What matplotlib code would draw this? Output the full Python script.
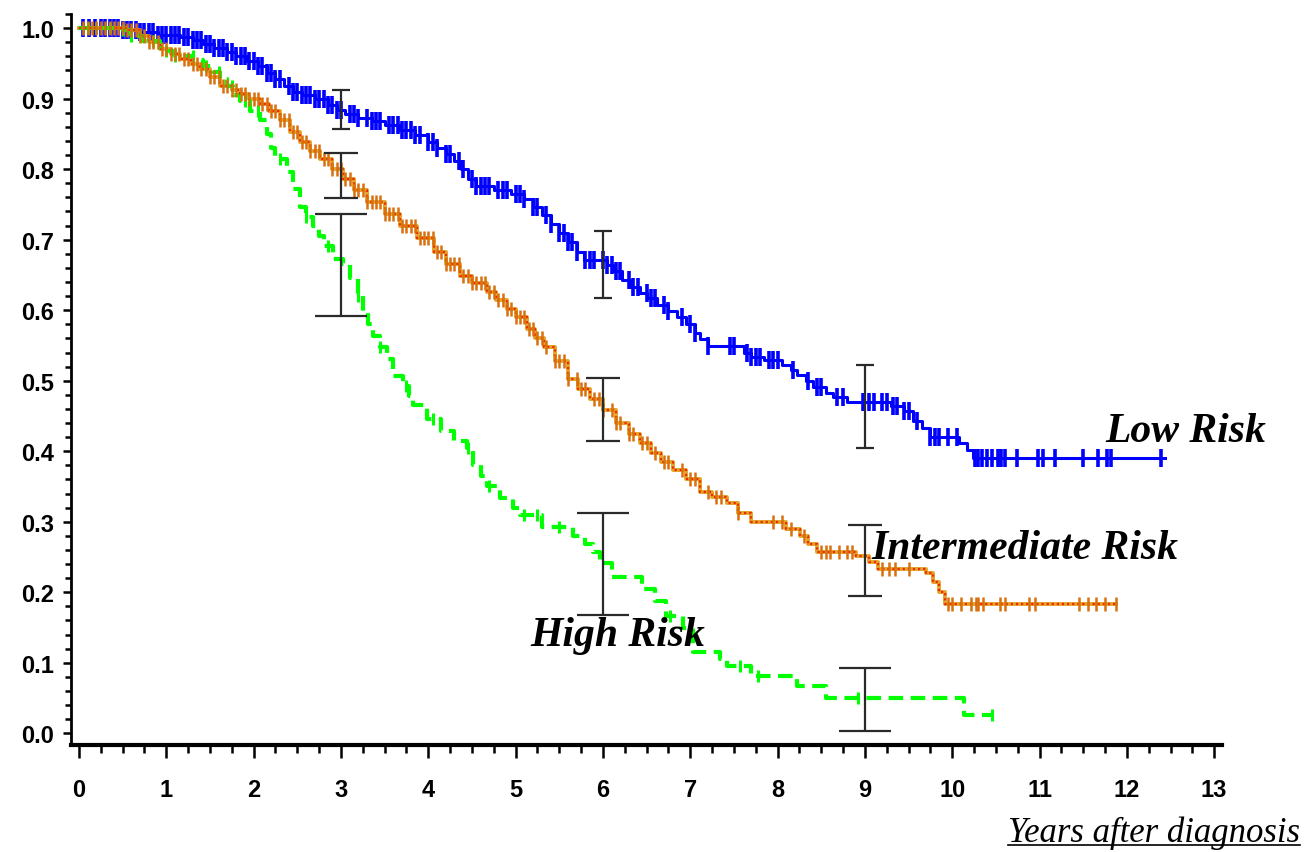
import numpy as np
import matplotlib
matplotlib.use('Agg')
import matplotlib.pyplot as plt
from matplotlib.lines import Line2D
from matplotlib.ticker import MultipleLocator, FormatStrFormatter

plt.rcParams['font.family'] = ['Liberation Sans', 'DejaVu Sans']
plt.rcParams['font.weight'] = 'bold'

# Kaplan-Meier curves (years, survival)
low_t = [0.0, 0.5, 0.7, 0.9, 1.16, 1.3, 1.42, 1.55, 1.69, 1.8, 1.92, 2.05, 2.15, 2.25, 2.35,
         2.45, 2.55, 2.7, 2.85, 2.95, 3.05, 3.2, 3.35, 3.5, 3.68, 3.85, 4.0, 4.1, 4.2, 4.3,
         4.38, 4.45, 4.55, 4.75, 4.95, 5.1, 5.2, 5.3, 5.4, 5.5, 5.6, 5.7, 5.78, 6.05, 6.12,
         6.22, 6.31, 6.42, 6.51, 6.62, 6.74, 6.85, 6.95, 7.05, 7.11, 7.2, 7.62, 7.7, 7.85,
         8.05, 8.15, 8.22, 8.32, 8.41, 8.55, 8.64, 8.8, 9.3, 9.45, 9.55, 9.65, 9.75, 10.08,
         10.17, 10.24, 12.44]
low_s = [1.0, 0.998, 0.994, 0.99, 0.987, 0.983, 0.978, 0.972, 0.966, 0.96, 0.954, 0.946, 0.937,
         0.928, 0.918, 0.91, 0.905, 0.899, 0.891, 0.884, 0.878, 0.873, 0.868, 0.863, 0.856,
         0.848, 0.838, 0.83, 0.822, 0.812, 0.8, 0.786, 0.776, 0.771, 0.765, 0.757, 0.746,
         0.735, 0.722, 0.71, 0.697, 0.683, 0.671, 0.664, 0.655, 0.643, 0.633, 0.624, 0.617,
         0.608, 0.599, 0.59, 0.58, 0.568, 0.559, 0.549, 0.54, 0.533, 0.529, 0.523, 0.515,
         0.508, 0.499, 0.491, 0.483, 0.477, 0.47, 0.464, 0.457, 0.443, 0.433, 0.42, 0.412,
         0.402, 0.39, 0.39]
low_cens = [0.05, 0.12, 0.18, 0.25, 0.3, 0.35, 0.4, 0.45, 0.5, 0.55, 0.6, 0.65, 0.7, 0.75, 0.8,
            0.85, 0.9, 0.95, 1.0, 1.05, 1.1, 1.15, 1.2, 1.25, 1.3, 1.35, 1.4, 1.45, 1.5, 1.55,
            1.6, 1.65, 1.7, 1.75, 1.8, 1.85, 1.9, 1.95, 2.0, 2.05, 2.1, 2.15, 2.2, 2.25, 2.3,
            2.4, 2.45, 2.5, 2.55, 2.6, 2.65, 2.7, 2.75, 2.8, 2.85, 2.9, 2.95, 3.0, 3.1, 3.15,
            3.2, 3.3, 3.35, 3.4, 3.45, 3.55, 3.6, 3.65, 3.7, 3.75, 3.8, 3.85, 3.9, 4.0, 4.05,
            4.1, 4.2, 4.25, 4.35, 4.4, 4.5, 4.55, 4.6, 4.65, 4.7, 4.8, 4.85, 4.9, 5.0, 5.05,
            5.1, 5.2, 5.25, 5.35, 5.4, 5.5, 5.55, 5.6, 5.65, 5.7, 5.8, 5.85, 5.9, 6.0, 6.05,
            6.1, 6.15, 6.2, 6.3, 6.35, 6.4, 6.5, 6.55, 6.6, 6.7, 6.75, 6.9, 7.0, 7.05, 7.2,
            7.46, 7.5, 7.65, 7.7, 7.75, 7.8, 7.9, 7.95, 8.0, 8.18, 8.35, 8.45, 8.5, 8.68, 8.75,
            8.98, 9.05, 9.1, 9.2, 9.25, 9.32, 9.37, 9.45, 9.5, 9.6, 9.75, 9.8, 9.85, 9.95,
            10.05, 10.26, 10.3, 10.34, 10.4, 10.46, 10.52, 10.56, 10.6, 10.74, 10.98, 11.04,
            11.18, 11.5, 11.67, 11.77, 11.82, 12.39]

mid_t = [0.0, 0.55, 0.7, 0.8, 0.93, 1.05, 1.16, 1.28, 1.39, 1.5, 1.62, 1.75, 1.84, 1.95, 2.07,
         2.18, 2.3, 2.42, 2.53, 2.65, 2.76, 2.9, 3.02, 3.15, 3.3, 3.5, 3.68, 3.87, 4.06, 4.2,
         4.36, 4.5, 4.67, 4.78, 4.9, 5.0, 5.13, 5.22, 5.32, 5.45, 5.6, 5.72, 5.85, 6.0, 6.15,
         6.3, 6.42, 6.55, 6.66, 6.8, 6.95, 7.11, 7.25, 7.42, 7.55, 7.7, 8.1, 8.26, 8.35, 8.45,
         8.9, 9.05, 9.15, 9.7, 9.78, 9.85, 9.92, 11.87]
mid_s = [1.0, 0.998, 0.989, 0.98, 0.97, 0.963, 0.956, 0.949, 0.942, 0.93, 0.918, 0.912, 0.906,
         0.9, 0.893, 0.882, 0.87, 0.853, 0.838, 0.826, 0.814, 0.8, 0.786, 0.77, 0.753, 0.737,
         0.72, 0.702, 0.683, 0.666, 0.649, 0.639, 0.626, 0.614, 0.602, 0.59, 0.574, 0.561,
         0.548, 0.528, 0.503, 0.488, 0.474, 0.458, 0.44, 0.425, 0.411, 0.398, 0.385, 0.373,
         0.36, 0.342, 0.335, 0.327, 0.313, 0.3, 0.29, 0.28, 0.268, 0.257, 0.252, 0.243, 0.233,
         0.228, 0.215, 0.2, 0.184, 0.184]
mid_cens = [0.05, 0.1, 0.15, 0.2, 0.25, 0.3, 0.35, 0.4, 0.45, 0.5, 0.55, 0.6, 0.65, 0.7, 0.75,
            0.8, 0.85, 0.9, 0.95, 1.0, 1.05, 1.1, 1.15, 1.2, 1.25, 1.3, 1.35, 1.4, 1.45, 1.5,
            1.55, 1.6, 1.65, 1.7, 1.75, 1.8, 1.85, 1.9, 1.95, 2.0, 2.05, 2.1, 2.15, 2.2, 2.25,
            2.3, 2.35, 2.4, 2.45, 2.5, 2.55, 2.6, 2.65, 2.7, 2.75, 2.8, 2.85, 2.9, 2.95, 3.0,
            3.05, 3.1, 3.15, 3.2, 3.25, 3.3, 3.35, 3.4, 3.45, 3.5, 3.55, 3.6, 3.65, 3.7, 3.75,
            3.8, 3.85, 3.9, 3.95, 4.0, 4.05, 4.1, 4.15, 4.2, 4.25, 4.3, 4.35, 4.4, 4.45, 4.5,
            4.55, 4.6, 4.65, 4.7, 4.75, 4.8, 4.85, 4.9, 4.95, 5.0, 5.05, 5.1, 5.15, 5.2, 5.25,
            5.3, 5.35, 5.45, 5.5, 5.55, 5.6, 5.7, 5.75, 5.8, 5.9, 5.95, 6.0, 6.1, 6.15, 6.2,
            6.3, 6.35, 6.45, 6.5, 6.6, 6.7, 6.75, 6.9, 7.0, 7.05, 7.2, 7.3, 7.35, 7.55, 7.95,
            8.05, 8.15, 8.3, 8.5, 8.55, 8.6, 8.7, 8.8, 8.85, 9.2, 9.28, 9.35, 9.5, 9.95, 10.0,
            10.1, 10.22, 10.27, 10.3, 10.35, 10.55, 10.6, 10.88, 10.95, 11.45, 11.55, 11.65,
            11.75, 11.87]

high_t = [0.0, 0.5, 0.58, 0.72, 0.93, 1.1, 1.31, 1.42, 1.53, 1.62, 1.7, 1.76, 1.84, 1.96, 2.07,
          2.15, 2.2, 2.25, 2.38, 2.45, 2.53, 2.6, 2.68, 2.75, 2.8, 2.91, 3.02, 3.1, 3.2, 3.25,
          3.31, 3.37, 3.45, 3.53, 3.6, 3.71, 3.78, 3.83, 3.99, 4.14, 4.3, 4.44, 4.51, 4.6,
          4.67, 4.82, 4.97, 5.05, 5.3, 5.66, 5.8, 5.89, 5.97, 6.1, 6.45, 6.6, 6.72, 6.92, 7.03,
          7.34, 7.42, 7.69, 8.22, 8.55, 10.13, 10.47]
high_s = [1.0, 0.998, 0.989, 0.982, 0.967, 0.96, 0.955, 0.946, 0.938, 0.928, 0.918, 0.905,
          0.897, 0.883, 0.87, 0.85, 0.83, 0.814, 0.796, 0.772, 0.746, 0.732, 0.72, 0.705,
          0.691, 0.673, 0.666, 0.646, 0.62, 0.598, 0.58, 0.564, 0.548, 0.531, 0.507, 0.493,
          0.478, 0.465, 0.446, 0.428, 0.415, 0.404, 0.38, 0.365, 0.351, 0.333, 0.319, 0.309,
          0.292, 0.28, 0.268, 0.257, 0.242, 0.222, 0.205, 0.187, 0.167, 0.149, 0.116, 0.106,
          0.095, 0.081, 0.067, 0.05, 0.026, 0.026]
high_cens = [0.1, 0.2, 0.35, 0.5, 0.6, 0.7, 0.85, 1.0, 1.1, 1.3, 1.45, 1.6, 1.75, 1.9, 2.05,
             2.3, 2.6, 2.85, 3.2, 3.45, 3.75, 4.05, 4.45, 4.7, 5.1, 5.25, 5.5, 6.77, 7.57,
             7.78, 8.92, 10.46]

# 95% confidence limits at 3, 6 and 9 years
ci_t = [3, 6, 9]
low_lo = [0.857, 0.618, 0.404]
low_hi = [0.912, 0.712, 0.523]
mid_lo = [0.759, 0.415, 0.195]
mid_hi = [0.823, 0.504, 0.295]
high_lo = [0.592, 0.168, 0.004]
high_hi = [0.737, 0.313, 0.093]


def at(t, s, c):
    t = np.asarray(t)
    s = np.asarray(s)
    idx = np.searchsorted(t, c, side='right') - 1
    return s[idx]


fig = plt.figure(figsize=(13.07, 8.53), dpi=100)
ax = fig.add_axes([0.0543, 0.1254, 0.8807, 0.857])

# low risk: solid blue
ax.step(low_t, low_s, where='post', color='#0000ff', lw=2.2, zorder=3)
ax.plot(low_cens, at(low_t, low_s, low_cens), ls='none', marker='|', ms=13, mew=2.6,
        color='#0000ff', zorder=3)

# intermediate risk: dotted orange
ax.step(mid_t, mid_s, where='post', color='#e09a10', lw=2.8, alpha=0.9, zorder=3)
ax.step(mid_t, mid_s, where='post', color='#f02800', lw=1.6, ls=(0, (1, 1.3)), zorder=4)
ax.plot(mid_cens, at(mid_t, mid_s, mid_cens), ls='none', marker='|', ms=10, mew=1.8,
        color='#d87010', zorder=4)

# high risk: dashed green
ax.step(high_t, high_s, where='post', color='#00ff00', lw=3.0, ls=(0, (3.5, 1.8)), zorder=3)
ax.plot(high_cens, at(high_t, high_s, high_cens), ls='none', marker='|', ms=9, mew=2.2,
        color='#00ff00', zorder=3)

# confidence intervals
for lo, hi, cap in [(low_lo, low_hi, 6.5), (mid_lo, mid_hi, 12), (high_lo, high_hi, 18.5)]:
    lo = np.array(lo)
    hi = np.array(hi)
    ax.errorbar(ci_t, (lo + hi) / 2, yerr=(hi - lo) / 2, fmt='none', ecolor='#2a2a2a',
                elinewidth=1.6, capsize=cap, capthick=1.6, zorder=5)

lab_font = dict(family=['Liberation Serif', 'DejaVu Serif'], style='italic', weight='bold',
                fontsize=30, color='black', zorder=6)
ax.text(11.75, 0.414, 'Low Risk', ha='left', va='baseline', **lab_font)
ax.text(9.08, 0.248, 'Intermediate Risk', ha='left', va='baseline', **lab_font)
ax.text(5.17, 0.125, 'High Risk', ha='left', va='baseline', **lab_font)

ax.set_xlim(-0.092, 13.09)
ax.set_ylim(-0.0166, 1.02)
ax.xaxis.set_major_locator(MultipleLocator(1))
ax.xaxis.set_minor_locator(MultipleLocator(0.25))
ax.yaxis.set_major_locator(MultipleLocator(0.1))
ax.yaxis.set_minor_locator(MultipleLocator(0.02))
ax.yaxis.set_major_formatter(FormatStrFormatter('%.1f'))

ax.spines['top'].set_visible(False)
ax.spines['right'].set_visible(False)
ax.spines['bottom'].set_linewidth(3.0)
ax.spines['left'].set_linewidth(2.0)
ax.tick_params(axis='x', which='major', length=9.5, width=1.8, pad=14, labelsize=17)
ax.tick_params(axis='x', which='minor', length=6, width=1.8)
ax.tick_params(axis='y', which='major', length=6, width=1.8, pad=6, labelsize=17)
ax.tick_params(axis='y', which='minor', length=4, width=1.8)

xt = fig.text(0.9945, 0.013, 'Years after diagnosis', ha='right', va='baseline',
              family=['Liberation Serif', 'DejaVu Serif'], style='italic', weight='normal',
              fontsize=25)

# underline the axis title
fig.canvas.draw()
bb = xt.get_window_extent().transformed(fig.transFigure.inverted())
uy = 0.013 - 0.005
fig.add_artist(Line2D([bb.x0, bb.x1], [uy, uy], transform=fig.transFigure, color='black', lw=1.2))

fig.savefig('out.png', dpi=100)
